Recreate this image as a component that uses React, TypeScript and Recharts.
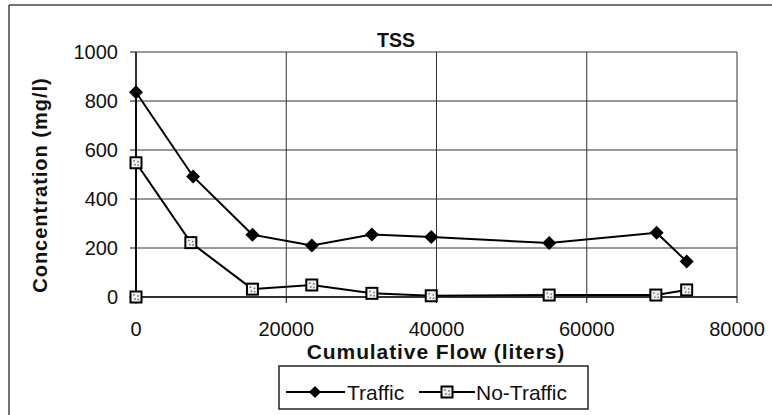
import React from "react";
import { LineChart, Line, XAxis, YAxis, CartesianGrid } from "recharts";

// values
const flowTraffic = [0, 0, 7600, 15500, 23400, 31400, 39300, 55000, 69300, 73300];
const tssTraffic = [0, 836, 492, 254, 210, 255, 245, 220, 262, 145];

const flowNoTraffic = [0, 0, 7300, 15500, 23400, 31400, 39300, 55000, 69200, 73300];
const tssNoTraffic = [0, 548, 222, 32, 49, 15, 5, 8, 8, 29];

const xTicks = [0, 20000, 40000, 60000, 80000];
const yTicks = [0, 200, 400, 600, 800, 1000];

const traffic = flowTraffic.map((x, i) => ({ x, y: tssTraffic[i] }));
const noTraffic = flowNoTraffic.map((x, i) => ({ x, y: tssNoTraffic[i] }));

const FONT = '"Liberation Sans", Arial, sans-serif';

const Diamond = ({ cx, cy, s = 7 }: any) => (
  <polygon
    points={`${cx},${cy - s} ${cx + s},${cy} ${cx},${cy + s} ${cx - s},${cy}`}
    fill="#000"
  />
);

const Square = ({ cx, cy }: any) => (
  <g>
    <rect x={cx - 5.5} y={cy - 5.5} width={11} height={11} fill="#f2f2f2" stroke="#000" strokeWidth={2} />
    <circle cx={cx - 2} cy={cy - 2} r={0.9} fill="#777" />
    <circle cx={cx + 2} cy={cy - 1} r={0.9} fill="#777" />
    <circle cx={cx - 1} cy={cy + 2} r={0.9} fill="#777" />
    <circle cx={cx + 2.2} cy={cy + 2.4} r={0.9} fill="#777" />
  </g>
);

const renderDiamond = (props: any) => <Diamond key={"d" + props.index} cx={props.cx} cy={props.cy} />;
const renderSquare = (props: any) => <Square key={"s" + props.index} cx={props.cx} cy={props.cy} />;

const tickStyle = { fill: "#111", fontSize: 20, fontFamily: FONT };

export default function App() {
  return (
    <div style={{ position: "absolute", left: 0, top: 0, width: 772, height: 415, background: "#fff" }}>
      <LineChart width={772} height={415} margin={{ top: 52, right: 35, bottom: 88, left: 36 }}>
        <CartesianGrid stroke="#333" strokeWidth={1} horizontalValues={yTicks} verticalValues={xTicks} />
        <XAxis
          type="number"
          dataKey="x"
          domain={[0, 80000]}
          ticks={xTicks}
          interval={0}
          height={30}
          tick={tickStyle}
          tickSize={6}
          tickMargin={19}
          axisLine={{ stroke: "#111", strokeWidth: 1.5 }}
          tickLine={{ stroke: "#111" }}
        />
        <YAxis
          type="number"
          dataKey="y"
          domain={[0, 1000]}
          ticks={yTicks}
          interval={0}
          width={100}
          tick={tickStyle}
          tickSize={6}
          tickMargin={12}
          axisLine={{ stroke: "#111", strokeWidth: 1.5 }}
          tickLine={{ stroke: "#111" }}
        />
        <Line
          data={traffic}
          dataKey="y"
          name="Traffic"
          type="linear"
          stroke="#000"
          strokeWidth={2}
          dot={renderDiamond}
          isAnimationActive={false}
        />
        <Line
          data={noTraffic}
          dataKey="y"
          name="No-Traffic"
          type="linear"
          stroke="#000"
          strokeWidth={2}
          dot={renderSquare}
          isAnimationActive={false}
        />
      </LineChart>

      {/* titles, legend and the chart-area frame */}
      <svg
        width={772}
        height={415}
        style={{ position: "absolute", left: 0, top: 0, pointerEvents: "none" }}
        fontFamily={FONT}
      >
        <line x1={9} y1={5} x2={772} y2={5} stroke="#444" strokeWidth={1.5} />
        <line x1={9} y1={5} x2={9} y2={415} stroke="#444" strokeWidth={1.5} />

        <text x={396} y={46.5} textAnchor="middle" fontSize={19.5} fontWeight="bold" fill="#111">
          TSS
        </text>
        <text x={436} y={359} textAnchor="middle" fontSize={21} fontWeight="bold" letterSpacing={0.9} fill="#111">
          Cumulative Flow (liters)
        </text>
        <text
          transform="translate(47,185) rotate(-90)"
          textAnchor="middle"
          fontSize={20}
          fontWeight="bold"
          letterSpacing={1}
          fill="#111"
        >
          Concentration (mg/l)
        </text>

        <rect x={279} y={366} width={309} height={43} fill="#fff" stroke="#222" strokeWidth={1.5} />
        <line x1={286} y1={392} x2={345} y2={392} stroke="#000" strokeWidth={2} />
        <Diamond cx={315} cy={392} s={6} />
        <text x={347} y={400} fontSize={21} fill="#111">
          Traffic
        </text>
        <line x1={419} y1={392} x2={475} y2={392} stroke="#000" strokeWidth={2} />
        <Square cx={447} cy={392} />
        <text x={476} y={400} fontSize={21} fill="#111">
          No-Traffic
        </text>
      </svg>
    </div>
  );
}
